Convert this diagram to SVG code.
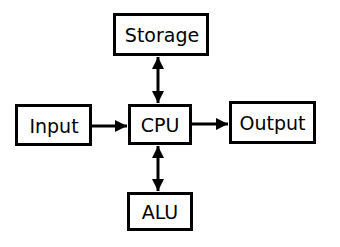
<svg xmlns="http://www.w3.org/2000/svg" width="340" height="247" viewBox="0 0 340 247">
<style>
.box{fill:#fff;stroke:#000;stroke-width:3}
.lbl{font-family:"DejaVu Sans",sans-serif;font-size:19px;fill:#000;text-anchor:middle;dominant-baseline:central}
.con{stroke:#000;stroke-width:3;fill:none}
</style>
<defs>
<marker id="ah" viewBox="0 0 10 10" refX="10" refY="5" markerWidth="5" markerHeight="4" markerUnits="strokeWidth" orient="auto-start-reverse">
<path d="M0,0 L10,5 L0,10 z" fill="#000"/>
</marker>
</defs>
<rect width="340" height="247" fill="#fff"/>
<g id="connectors">
<line class="con" x1="91" y1="126" x2="127" y2="126" marker-end="url(#ah)"/>
<line class="con" x1="191" y1="124" x2="228" y2="124" marker-end="url(#ah)"/>
<line class="con" x1="158" y1="57" x2="158" y2="103" marker-start="url(#ah)" marker-end="url(#ah)"/>
<line class="con" x1="158" y1="146" x2="158" y2="191" marker-start="url(#ah)" marker-end="url(#ah)"/>
</g>
<g id="storage"><rect class="box" x="114.5" y="14.5" width="93" height="40"/><text class="lbl" x="162" y="35">Storage</text></g>
<g id="input"><rect class="box" x="16.5" y="105.5" width="74" height="39"/><text class="lbl" x="54" y="126">Input</text></g>
<g id="cpu"><rect class="box" x="129.5" y="105.5" width="61" height="38"/><text class="lbl" x="160" y="125">CPU</text></g>
<g id="output"><rect class="box" x="230.5" y="102.5" width="84" height="40"/><text class="lbl" x="272.5" y="123">Output</text></g>
<g id="alu"><rect class="box" x="128.5" y="193.5" width="63" height="36"/><text class="lbl" x="160" y="212">ALU</text></g>
</svg>
